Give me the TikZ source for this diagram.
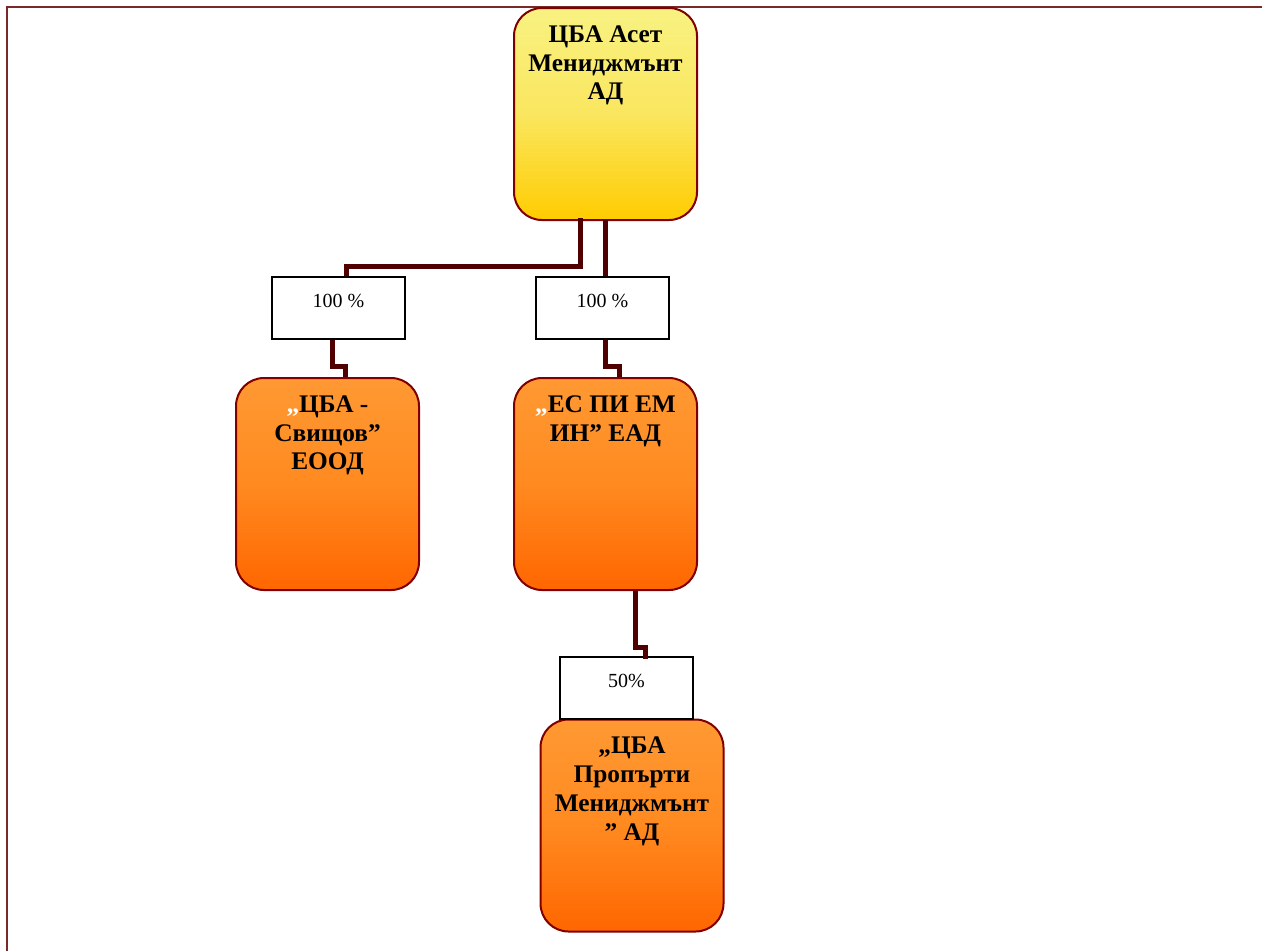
\documentclass[tikz,border=0pt]{standalone}
\usepackage{fontspec}
\setmainfont{Liberation Serif}
\usetikzlibrary{calc}
\definecolor{frameC}{RGB}{122,40,40}
\definecolor{boxBorder}{RGB}{128,0,0}
\definecolor{connC}{RGB}{80,0,0}
\definecolor{yelTop}{RGB}{248,242,130}
\definecolor{yelMid}{RGB}{250,230,95}
\definecolor{yelBot}{RGB}{255,204,0}
\definecolor{orTop}{RGB}{255,153,51}
\definecolor{orMid}{RGB}{255,138,32}
\definecolor{orBot}{RGB}{255,102,0}
\newcommand\cbtext[1]{\parbox[c][159pt][t]{137.25pt}{\centering\fontsize{19}{21.6}\selectfont\bfseries\vspace*{10.6pt}\strut#1\par}}
\newcommand\pctext[1]{\parbox[c][46.5pt][t]{99.75pt}{\centering\fontsize{15}{18}\selectfont\vspace*{9.9pt}\strut#1\par}}
\newcommand\wq{\textcolor{white}{„}}
\tikzset{
  basebox/.style={draw=boxBorder, line width=1.5pt, rounded corners=21pt, inner sep=0pt},
  yelbox/.style={basebox, top color=yelTop, bottom color=yelBot, middle color=yelMid},
  orgbox/.style={basebox, top color=orTop, bottom color=orBot, middle color=orMid},
  pctbox/.style={draw=black, line width=1.2pt, fill=white, inner sep=0pt},
  conn/.style={draw=connC, line width=3.75pt},
  frameline/.style={draw=frameC, line width=1.6pt}
}
\begin{document}
\begin{tikzpicture}[x=0.75pt,y=-0.75pt]
\useasboundingbox (0,0) rectangle (1262,951);
\draw[frameline] (7,951) -- (7,7) -- (1262,7);

\node[yelbox] (top) at (605.5,114) {\cbtext{ЦБА Асет\\Мениджмънт\\АД}};
\node[orgbox] (c1) at (327.5,484) {\cbtext{\wq ЦБА -\\Свищов”\\ЕООД}};
\node[orgbox] (c2) at (605.5,484) {\cbtext{\wq ЕС ПИ ЕМ\\ИН” ЕАД}};
\node[orgbox] (c3) at (632,825.5) {\cbtext{„ЦБА\\Пропърти\\Мениджмънт\\” АД}};

\node[pctbox] (p1) at (338.5,308) {\pctext{100 \%}};
\node[pctbox] (p2) at (602.5,308) {\pctext{100 \%}};
\node[pctbox] (p3) at (626.5,688) {\pctext{50\%}};

\draw[conn] ($(top.south)+(-25.5,-3)$) -- ++(0,48) -| ($(p1.north)+(7.5,0)$);
\draw[conn] ($(top.south)+(0,-1)$) -- (top.south |- p2.north);
\draw[conn] ($(p1.south)+(-6,0)$) -- ++(0,27) -| ($(c1.north)+(18,0)$);
\draw[conn] ($(p2.south)+(3,0)$) -- ++(0,27) -| ($(c2.north)+(14,0)$);
\draw[conn] ($(c2.south)+(30,0)$) -- ++(0,56) -| ($(p3.north)+(18.5,3)$);
\end{tikzpicture}
\end{document}
